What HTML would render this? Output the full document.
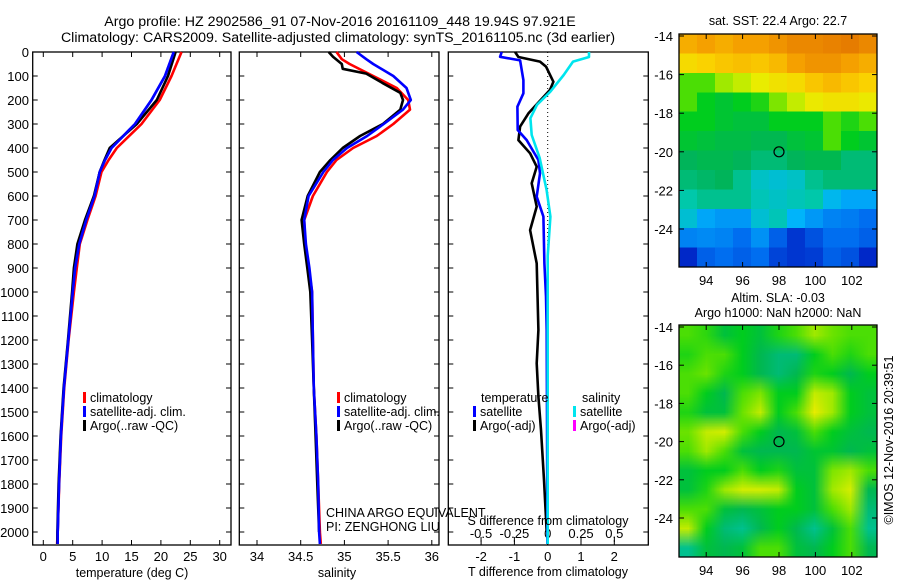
<!DOCTYPE html>
<html><head><meta charset="utf-8">
<style>
html,body{margin:0;padding:0;background:#fff;}
#wrap{position:relative;width:900px;height:580px;overflow:hidden;font-family:"Liberation Sans",sans-serif;}
canvas{position:absolute;}
svg{position:absolute;left:0;top:0;}
text{font-family:"Liberation Sans",sans-serif;fill:#000;}
</style></head>
<body>
<div id="wrap">
<canvas id="sst" width="11" height="12" style="left:679px;top:34px;width:198px;height:233px;image-rendering:pixelated;"></canvas>
<canvas id="sla" width="11" height="12" style="left:679px;top:325px;width:198px;height:232px;"></canvas>
<svg id="fig" width="900" height="580"></svg>
</div>
<script>
// ---------- data ----------
const tDepth = [0,100,200,300,400,450,500,600,700,800,900,1000,1200,1400,1600,1800,2000,2050];
const tClim  = [23.5,21.8,19.8,16.7,12.5,11.1,9.9,8.9,7.5,6.2,5.7,5.2,4.3,3.55,3.05,2.7,2.45,2.35];
const tSat   = [22.2,20.7,18.4,15.6,11.6,10.5,9.6,8.7,7.3,6.1,5.4,5.0,4.25,3.5,3.0,2.67,2.45,2.45];
const tArgo  = [22.5,21.2,19.3,15.9,11.3,10.4,9.6,8.6,7.1,5.8,5.2,4.9,4.2,3.45,2.95,2.6,2.4,2.4];

const sDepth = [0,30,50,100,150,200,240,300,350,400,450,500,600,700,800,900,1000,1200,1400,1600,1800,2000,2050];
const sClim  = [34.91,34.97,35.06,35.33,35.60,35.73,35.75,35.56,35.37,35.10,34.91,34.80,34.64,34.54,34.55,34.59,34.63,34.64,34.65,34.68,34.70,34.72,34.73];
const sSat   = [35.14,35.25,35.33,35.56,35.71,35.76,35.67,35.45,35.26,35.03,34.87,34.76,34.59,34.54,34.56,34.60,34.63,34.64,34.65,34.68,34.70,34.71,34.72];
const aDepth = [0,20,50,70,90,130,170,200,240,300,350,400,450,500,600,700,800,900,1000,1200,1400,1600,1800,2000];
const sArgo  = [34.82,34.87,34.97,34.98,35.25,35.44,35.64,35.67,35.64,35.44,35.18,34.98,34.84,34.72,34.58,34.51,34.54,34.575,34.61,34.63,34.65,34.67,34.69,34.71];

const dTDepthSat = [0,20,35,117,172,228,325,367,450,506,603,686,881,1019,1158,1500,2050];
const dTSat      = [-1.38,-1.43,-0.83,-0.73,-0.73,-0.91,-0.9,-0.63,-0.28,-0.23,-0.33,-0.13,-0.10,-0.05,-0.03,-0.02,-0.01];
const dTDepthArgo= [0,21,40,61,124,158,256,311,367,422,478,547,644,742,881,1158,1297,1436,1575,1783,2000];
const dTArgo     = [-0.98,-0.88,-0.23,-0.05,0.17,0.07,-0.58,-0.83,-0.88,-0.53,-0.33,-0.48,-0.33,-0.53,-0.33,-0.28,-0.33,-0.28,-0.2,-0.11,-0.03];
const dSDepth    = [0,21,40,96,165,220,276,346,442,575,686,850,1200,2050];
const dSSat      = [0.31,0.31,0.19,0.12,0.02,-0.08,-0.13,-0.12,-0.06,-0.008,0.02,0.0,0.0,0.0];

const depthTicks = [0,100,200,300,400,500,600,700,800,900,1000,1100,1200,1300,1400,1500,1600,1700,1800,1900,2000];
const tTicks = [0,5,10,15,20,25,30];
const sTicks = [34,34.5,35,35.5,36];
const dTTicks = [-2,-1,0,1,2];
const dSTicks = [-0.5,-0.25,0,0.25,0.5];
const dSTickLabels = ["-0.5","-0.25","0","0.25","0.5"];
const lonTicks = [94,96,98,100,102];
const latTicks = [-14,-16,-18,-20,-22,-24];

const sstGrid = [
[0.78,0.8,0.78,0.8,0.8,0.82,0.84,0.84,0.85,0.86,0.84],
[0.7,0.72,0.74,0.75,0.74,0.76,0.8,0.82,0.82,0.8,0.78],
[0.55,0.55,0.6,0.62,0.65,0.68,0.7,0.74,0.76,0.74,0.72],
[0.55,0.5,0.48,0.5,0.52,0.58,0.62,0.66,0.68,0.68,0.66],
[0.5,0.5,0.48,0.47,0.47,0.5,0.5,0.5,0.55,0.52,0.55],
[0.48,0.47,0.46,0.46,0.45,0.45,0.47,0.48,0.55,0.5,0.48],
[0.44,0.45,0.45,0.44,0.42,0.42,0.44,0.45,0.45,0.42,0.42],
[0.42,0.43,0.44,0.4,0.36,0.35,0.36,0.4,0.42,0.42,0.42],
[0.38,0.4,0.4,0.4,0.37,0.36,0.37,0.38,0.33,0.3,0.3],
[0.35,0.3,0.28,0.28,0.35,0.37,0.32,0.28,0.25,0.24,0.22],
[0.25,0.26,0.25,0.22,0.27,0.2,0.14,0.18,0.22,0.22,0.2],
[0.12,0.2,0.22,0.2,0.22,0.16,0.14,0.15,0.2,0.18,0.12]];
const slaGrid = [
[0.55,0.53,0.47,0.5,0.47,0.52,0.55,0.6,0.57,0.55,0.55],
[0.52,0.55,0.55,0.5,0.45,0.42,0.42,0.5,0.55,0.52,0.55],
[0.55,0.57,0.52,0.5,0.45,0.42,0.45,0.52,0.5,0.45,0.5],
[0.55,0.5,0.45,0.55,0.58,0.5,0.5,0.62,0.6,0.5,0.47],
[0.52,0.47,0.47,0.57,0.62,0.5,0.55,0.65,0.6,0.5,0.47],
[0.57,0.62,0.63,0.55,0.5,0.45,0.47,0.55,0.5,0.47,0.45],
[0.55,0.6,0.55,0.47,0.45,0.45,0.45,0.48,0.48,0.45,0.47],
[0.47,0.5,0.5,0.55,0.5,0.52,0.47,0.47,0.58,0.6,0.55],
[0.47,0.52,0.6,0.63,0.63,0.62,0.5,0.47,0.6,0.63,0.45],
[0.55,0.55,0.47,0.45,0.47,0.5,0.5,0.47,0.55,0.6,0.42],
[0.62,0.5,0.42,0.4,0.45,0.5,0.45,0.4,0.47,0.55,0.4],
[0.4,0.47,0.45,0.47,0.55,0.55,0.47,0.45,0.5,0.55,0.45]];
const argoLon = 98, argoLat = -20;

// ---------- helpers ----------
const NS="http://www.w3.org/2000/svg";
const svg=document.getElementById('fig');
function el(tag,attrs,parent){const e=document.createElementNS(NS,tag);for(const k in attrs)e.setAttribute(k,attrs[k]);(parent||svg).appendChild(e);return e;}
function txt(x,y,s,size,anchor,parent){const t=el('text',{x:x,y:y,'font-size':size,'text-anchor':anchor||'middle'},parent);t.textContent=s;return t;}
const yD = d => 52 + 0.24*d;
const xT = t => 43.3 + 5.88*t;
const xS = s => 257 + 87.4*(s-34);
const xDT = v => 547.7 + 33.3*v;
const xDS = v => 547.7 + 133.3*v;
const xLon = l => 779 + 18.2*(l-98);
const yLat1 = l => 36 + 19.3*(-14-l);
const yLat2 = l => 327 + 19.1*(-14-l);

function poly(depths,vals,xf,color,name){
  let d='';
  for(let i=0;i<depths.length;i++){d+=(i?'L':'M')+xf(vals[i]).toFixed(1)+' '+yD(Math.min(depths[i],2054)).toFixed(1);}
  const p=el('path',{d:d,fill:'none',stroke:color,'stroke-width':2.6,'stroke-linejoin':'round'});
  
  
}
function frame(x0,x1,y0,y1,name){
  const r=el('rect',{x:x0,y:y0,width:x1-x0,height:y1-y0,fill:'none',stroke:'#000','stroke-width':1.3});
  
  
}
function depthTicksFor(x0,x1,labels){
  depthTicks.forEach(d=>{
    el('line',{x1:x0,x2:x0+5,y1:yD(d),y2:yD(d),stroke:'#000'});
    el('line',{x1:x1,x2:x1-5,y1:yD(d),y2:yD(d),stroke:'#000'});
    if(labels){const t=txt(29,yD(d)+5,String(d),13,'end');}
  });
}
function xTicks(vals,xf,labels,yb,ty){
  vals.forEach((v,i)=>{
    el('line',{x1:xf(v),x2:xf(v),y1:yb,y2:yb-5,stroke:'#000'});
    el('line',{x1:xf(v),x2:xf(v),y1:52,y2:57,stroke:'#000'});
    const t=txt(xf(v),ty,labels[i],13,'middle');
    
    
  });
}
function legendRow(x,y,color,label){
  el('rect',{x:x,y:y-10,width:3,height:11,fill:color});
  const t=txt(x+7,y,label,12.5,'start');
  
  
}

// ---------- titles ----------
let t1=txt(340,26,'Argo profile: HZ 2902586_91 07-Nov-2016 20161109_448 19.94S 97.921E',14.2);


let t2=txt(338,42,'Climatology: CARS2009. Satellite-adjusted climatology: synTS_20161105.nc (3d earlier)',14.2);



// ---------- panel 1: temperature ----------
frame(32.7,231,52,545,'temperature-panel');
depthTicksFor(32.7,231,true);
xTicks(tTicks,xT,tTicks.map(String),545,561);
poly(tDepth,tClim,xT,'#ff0000','temp-climatology-line');
poly(tDepth,tSat,xT,'#0000ff','temp-satellite-line');
poly(tDepth,tArgo,xT,'#000000','temp-argo-line');
poly(tDepth,tSat,xT,'#0000ff','temp-satellite-line-top');
let xl1=txt(132,577,'temperature (deg C)',12.5);


legendRow(83,402,'#ff0000','climatology');
legendRow(83,416,'#0000ff','satellite-adj. clim.');
legendRow(83,430,'#000000','Argo(..raw -QC)');

// ---------- panel 2: salinity ----------
frame(239.3,439,52,545,'salinity-panel');
depthTicksFor(239.3,439,false);
xTicks(sTicks,xS,['34','34.5','35','35.5','36'],545,561);
poly(sDepth,sClim,xS,'#ff0000','sal-climatology-line');
poly(aDepth,sArgo,xS,'#000000','sal-argo-line');
poly(sDepth,sSat,xS,'#0000ff','sal-satellite-line');
let xl2=txt(337,577,'salinity',12.5);


legendRow(337,402,'#ff0000','climatology');
legendRow(337,416,'#0000ff','satellite-adj. clim.');
legendRow(337,430,'#000000','Argo(..raw -QC)');
let c1=txt(326,517,'CHINA ARGO EQUIVALENT',12.5,'start');


let c2=txt(326,531,'PI: ZENGHONG LIU',12.5,'start');



// ---------- panel 3: differences ----------
frame(448.3,648.3,52,545,'difference-panel');
depthTicksFor(448.3,648.3,false);
el('line',{x1:547.7,x2:547.7,y1:52,y2:545,stroke:'#000','stroke-dasharray':'1,3'});
dTTicks.forEach(v=>{el('line',{x1:xDT(v),x2:xDT(v),y1:545,y2:540,stroke:'#000'});const t=txt(xDT(v),561,String(v),13);});
dSTicks.forEach((v,i)=>{el('line',{x1:xDS(v),x2:xDS(v),y1:542,y2:537,stroke:'#000'});const t=txt(xDS(v),538,dSTickLabels[i],13);});
poly(dTDepthArgo,dTArgo,xDT,'#000000','tdiff-argo-line');
poly(dTDepthSat,dTSat,xDT,'#0000ff','tdiff-satellite-line');
poly(dSDepth,dSSat,xDS,'#00e5ee','sdiff-satellite-line');
let xs3=txt(548,525,'S difference from climatology',12.5);


let xl3=txt(548,576,'T difference from climatology',12.5);


txt(481,402,'temperature',12.5,'start');
legendRow(473,416,'#0000ff','satellite');
legendRow(473,430,'#000000','Argo(-adj)');
txt(582,402,'salinity',12.5,'start');
legendRow(573,416,'#00e5ee','satellite');
legendRow(573,430,'#ff00ff','Argo(-adj)');

// ---------- maps ----------
const stops=[[0,[0,0,130]],[0.12,[0,40,200]],[0.22,[0,110,240]],[0.32,[0,180,250]],[0.38,[0,200,170]],[0.44,[0,180,90]],[0.5,[0,205,30]],[0.56,[90,225,0]],[0.64,[230,240,0]],[0.72,[250,210,0]],[0.8,[245,160,0]],[0.9,[220,100,0]],[1,[180,60,0]]];
function cmap(v){for(let i=1;i<stops.length;i++){if(v<=stops[i][0]){const a=stops[i-1],b=stops[i];const f=(v-a[0])/(b[0]-a[0]);return a[1].map((c,k)=>Math.round(c+f*(b[1][k]-c)));}}return stops[stops.length-1][1];}
function paint(id,grid){const c=document.getElementById(id).getContext('2d');const im=c.createImageData(11,12);
  for(let r=0;r<12;r++)for(let q=0;q<11;q++){const col=cmap(grid[r][q]);const i=(r*11+q)*4;im.data[i]=col[0];im.data[i+1]=col[1];im.data[i+2]=col[2];im.data[i+3]=255;}
  c.putImageData(im,0,0);}
paint('sst',sstGrid);paint('sla',slaGrid);

function mapAxes(y0,y1,yLat,name){
  frame(679,877,y0,y1,name);
  lonTicks.forEach(l=>{el('line',{x1:xLon(l),x2:xLon(l),y1:y1,y2:y1-5,stroke:'#000'});el('line',{x1:xLon(l),x2:xLon(l),y1:y0,y2:y0+5,stroke:'#000'});const t=txt(xLon(l),y1+18,String(l),13);});
  latTicks.forEach(l=>{el('line',{x1:679,x2:684,y1:yLat(l),y2:yLat(l),stroke:'#000'});el('line',{x1:877,x2:872,y1:yLat(l),y2:yLat(l),stroke:'#000'});const t=txt(673,yLat(l)+5,String(l),13,'end');});
  const c=el('circle',{cx:xLon(argoLon),cy:yLat(argoLat),r:5,fill:'none',stroke:'#000','stroke-width':1.2});
  
  
}
mapAxes(34,267,yLat1,'sst-map-frame');
mapAxes(325,557,yLat2,'sla-map-frame');
let m1=txt(778,25,'sat. SST: 22.4 Argo: 22.7',12.5);


let m2=txt(778,302,'Altim. SLA: -0.03',12.5);


let m3=txt(778,317,'Argo h1000: NaN h2000: NaN',12.5);


let cp=txt(0,0,'\u00a9IMOS 12-Nov-2016 20:39:51',12.5);
cp.setAttribute('transform','translate(893,440) rotate(-90)');


</script>
</body></html>
